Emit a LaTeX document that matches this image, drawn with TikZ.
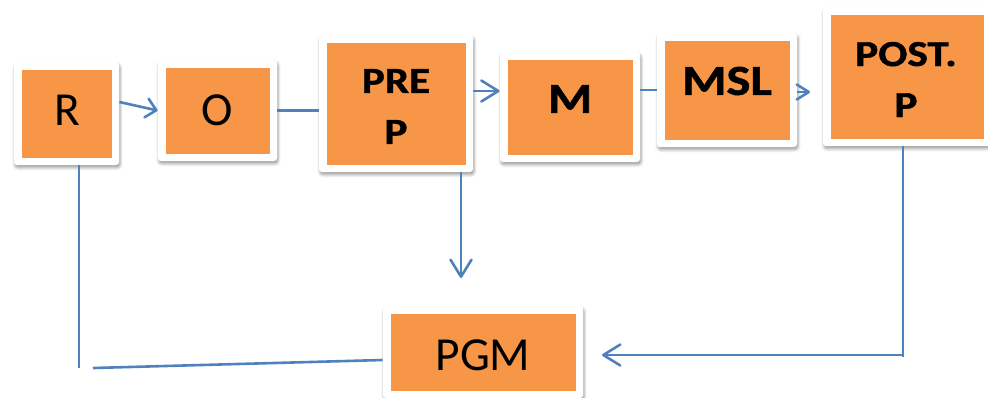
\documentclass[tikz,border=0pt]{standalone}
\usepackage{fontspec}
\setmainfont{Carlito}
\newfontfamily\widebold{Carlito}[FakeStretch=1.18, BoldFeatures={FakeBold=1.2}]
\usetikzlibrary{arrows.meta,shadows.blur}

\definecolor{boxorange}{HTML}{F79646}
\definecolor{linkblue}{HTML}{4F81BD}

\tikzset{
  frame/.style={fill=white, rounded corners=1.5pt, inner sep=0pt,
    blur shadow={shadow xshift=0.5pt, shadow yshift=-1.3pt,
      shadow blur radius=1.5pt, shadow opacity=40},
    path picture={\fill[boxorange, sharp corners]
      ([shift={(3.75pt,-3.75pt)}]path picture bounding box.north west) rectangle
      ([shift={(-3.75pt,3.75pt)}]path picture bounding box.south east);}},
  plain/.style={inner sep=0pt, font=\fontsize{23.7pt}{28pt}\selectfont},
  strong/.style={inner sep=0pt, font=\widebold\bfseries\fontsize{21.5pt}{25pt}\selectfont},
  heavy/.style={inner sep=0pt, align=center,
    font=\widebold\bfseries\fontsize{18.3pt}{25.5pt}\selectfont},
  link/.style={draw=linkblue, line width=1.3pt},
  arr/.style={link, -{Straight Barb[length=8.5pt, width=10.5pt, round]}},
  arrsmall/.style={link, -{Straight Barb[length=5pt, width=9.5pt, round]}},
  arrshort/.style={link, -{Straight Barb[length=6pt, width=7.5pt, round]}}
}

\begin{document}
\begin{tikzpicture}[x=0.5pt, y=-0.5pt]
  \useasboundingbox (0,0) rectangle (988,397);

  % framed boxes
  \node[frame, minimum width=52.5pt, minimum height=51.5pt] (Rf)    at (66.5,113.5) {};
  \node[frame, minimum width=59.5pt, minimum height=50.5pt] (Of)    at (217.5,110.5) {};
  \node[frame, minimum width=77pt,   minimum height=68.5pt] (PREf)  at (396,103.5) {};
  \node[frame, minimum width=70pt,   minimum height=55pt]   (Mf)    at (570,107) {};
  \node[frame, minimum width=70pt,   minimum height=57pt]   (MSLf)  at (727,90) {};
  \node[frame, minimum width=84pt,   minimum height=69.5pt] (POSTf) at (907,76.5) {};
  \node[frame, minimum width=100pt,  minimum height=46pt]   (PGMf)  at (483,352) {};

  % box texts
  \node[plain]  (R)    at (67,110)    {R};
  \node[plain]  (O)    at (217.5,110.5) {O};
  \node[heavy]  (PRE)  at (396,106.5) {PRE\\P};
  \node[strong] (M)    at (570,99)    {M};
  \node[strong] (MSL)  at (727,81)    {MSL};
  \node[heavy]  (POST) at (906,79.5)  {POST.\\P};
  \node[plain]  (PGM)  at (483,355)   {PGM};

  % free ends of connectors
  \coordinate (postin)     at (810,92);
  \coordinate (pgmtop)     at (461,278);
  \coordinate (postcorner) at (903,355);
  \coordinate (pgmright)   at (602,355);
  \coordinate (rcorner)    at (79,368);
  \coordinate (gapstart)   at (93,368);
  \coordinate (pgmleft)    at (383,360);
  \path ([yshift=6.25pt]PREf.east) coordinate (preout);

  % top row
  \draw[arrsmall] ([yshift=5.75pt]Rf.east) -- (Of.west);
  \draw[link] (Of.east) -- (Of.east -| PREf.west);
  \draw[arr] (preout) -- (preout -| Mf.west);
  \draw[link] (Mf.east |- MSLf.west) -- (MSLf.west);
  \draw[arrshort] (MSLf.east |- postin) -- (postin);

  % links down to PGM
  \draw[arr] (PREf.south -| pgmtop) -- (pgmtop);
  \draw[link] (POSTf.south -| postcorner) -- ([yshift=-1pt]postcorner);
  \draw[arr] (postcorner) -- (pgmright);
  \draw[link] (Rf.south -| rcorner) -- (rcorner);
  \draw[link] (gapstart) -- (pgmleft -| PGMf.west);
\end{tikzpicture}
\end{document}
